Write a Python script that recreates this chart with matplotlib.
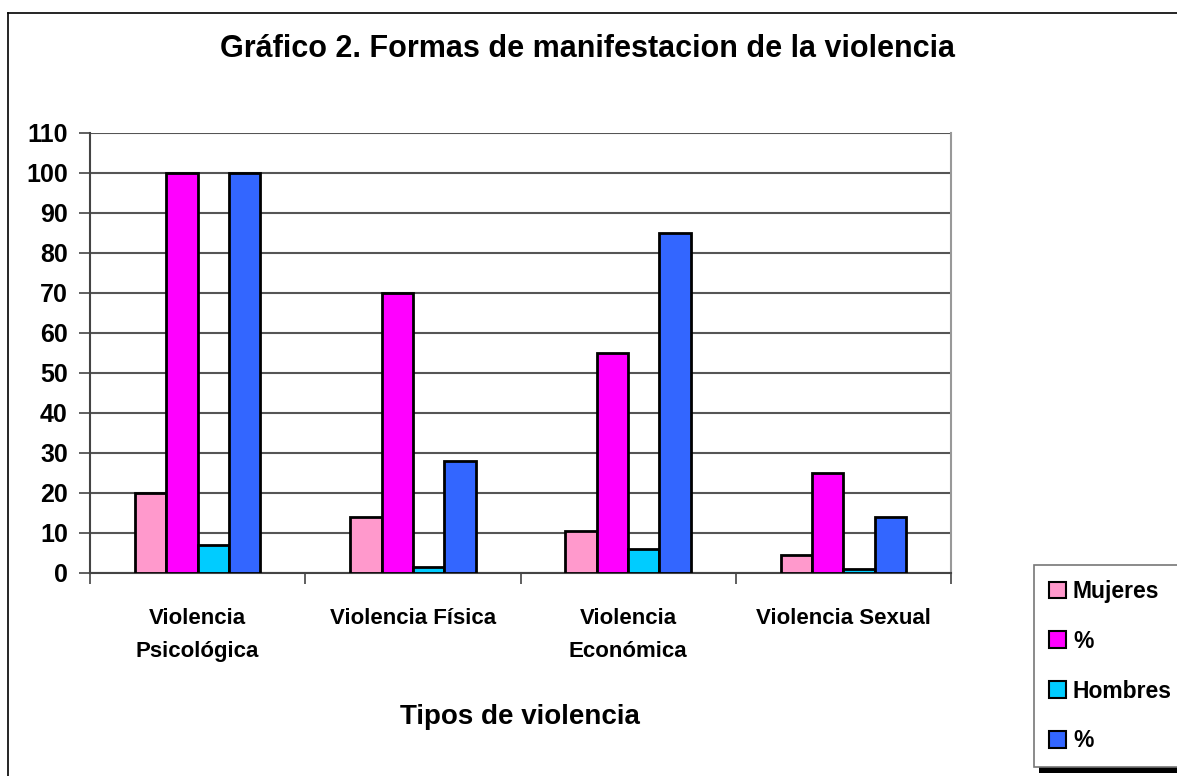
import matplotlib
matplotlib.use("Agg")
import matplotlib.pyplot as plt
from matplotlib import font_manager
from matplotlib.patches import Rectangle, Patch
from matplotlib.lines import Line2D
import numpy as np

categories = ["Violencia\nPsicológica", "Violencia Física", "Violencia\nEconómica", "Violencia Sexual"]
series_names = ["Mujeres", "%", "Hombres", "%"]
mujeres = [20, 14, 10.5, 4.5]
pct_mujeres = [100, 70, 55, 25]
hombres = [7, 1.5, 6, 1]
pct_hombres = [100, 28, 85, 14]
colors = ["#FF99CC", "#FF00FF", "#00CCFF", "#3366FF"]
yticks = list(range(0, 111, 10))

available = {f.name for f in font_manager.fontManager.ttflist}
fam = "Liberation Sans Narrow" if "Liberation Sans Narrow" in available else "Liberation Sans"
plt.rcParams['font.family'] = [fam, 'DejaVu Sans']
plt.rcParams['font.weight'] = 'bold'

W, H = 1177, 776
fig = plt.figure(figsize=(W / 100, H / 100), dpi=100)
fig.patch.set_facecolor("white")

def fx(px):
    return px / W

def fy(py):
    return 1 - py / H

# outer chart frame (left and top visible)
fig.add_artist(Line2D([fx(8), fx(8)], [fy(13), fy(776)], color="black", lw=1.2, transform=fig.transFigure))
fig.add_artist(Line2D([fx(8), fx(1177)], [fy(13), fy(13)], color="black", lw=1.2, transform=fig.transFigure))

ax = fig.add_axes([fx(90), fy(573), fx(951) - fx(90), fy(133) - fy(573)])
ax.set_xlim(0, 4)
ax.set_ylim(0, 110)

data = [mujeres, pct_mujeres, hombres, pct_hombres]
n = len(data)
bw = 0.1455
x = np.arange(len(categories)) + 0.5
for i, (vals, c) in enumerate(zip(data, colors)):
    off = (i - (n - 1) / 2) * bw
    ax.bar(x + off, vals, width=bw, color=c, edgecolor="black", linewidth=2, zorder=3)

ax.set_yticks(yticks)
ax.set_yticklabels([str(t) for t in yticks], fontsize=18, fontweight="bold")
ax.yaxis.grid(True, color="#555555", lw=1.5, zorder=0)
ax.tick_params(axis="y", length=8, width=1.2, color="#444444", pad=8)

ax.set_xticks(np.arange(0, 5))
ax.set_xticklabels([])
ax.tick_params(axis="x", which="major", length=8, width=1.2, color="#444444", direction="out")
ax.set_xticks(x, minor=True)
ax.set_xticklabels(categories, minor=True, fontsize=16, fontweight="bold", linespacing=1.75)
ax.tick_params(axis="x", which="minor", length=0, pad=25)

for s in ["left", "bottom"]:
    ax.spines[s].set_color("#444444")
    ax.spines[s].set_linewidth(1.5)
ax.spines["right"].set_color("#999999")
ax.spines["right"].set_linewidth(1.5)
ax.spines["top"].set_visible(False)

fig.text(fx(588), fy(49), "Gráfico 2. Formas de manifestacion de la violencia",
         ha="center", va="center", fontsize=22, fontweight="bold")
fig.text(fx(520), fy(717), "Tipos de violencia", ha="center", va="center",
         fontsize=20, fontweight="bold")

# legend shadow
fig.add_artist(Rectangle((fx(1039), fy(773)), fx(1177) - fx(1039), fy(765) - fy(773),
                         transform=fig.transFigure, facecolor="black", edgecolor="none", zorder=1))
# legend
handles = [Patch(facecolor=c, edgecolor="black", linewidth=1.5) for c in colors]
leg = fig.legend(handles, series_names, loc="upper left",
                 bbox_to_anchor=(fx(1034), fy(565)), bbox_transform=fig.transFigure,
                 frameon=True, fancybox=False, fontsize=16.5, handlelength=0.75, handleheight=0.75,
                 handletextpad=0.3, labelspacing=1.17, borderpad=0.65, borderaxespad=0,
                 framealpha=1)
leg.set_zorder(5)
leg.get_frame().set_edgecolor("#777777")
leg.get_frame().set_linewidth(1.2)
for t in leg.get_texts():
    t.set_fontweight("bold")

fig.savefig("out.png", dpi=100, facecolor="white")
